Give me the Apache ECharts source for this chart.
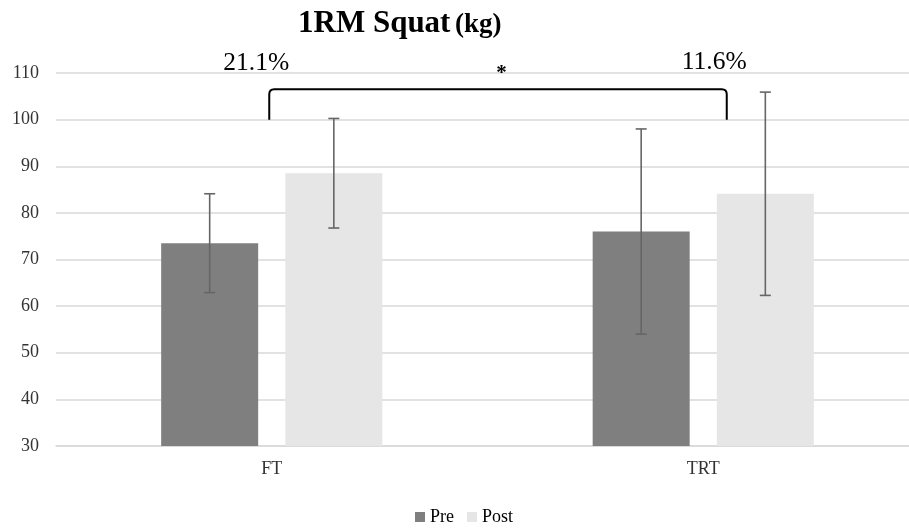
<!DOCTYPE html>
<html>
<head>
<meta charset="utf-8">
<script src="https://cdn.jsdelivr.net/npm/echarts@6/dist/echarts.min.js"></script>
<style>html,body{margin:0;padding:0;background:#fff}#c{width:909px;height:528px}</style>
</head>
<body>
<div id="c"></div>
<script>
const categories = ['FT', 'TRT'];
const seriesNames = ['Pre', 'Post'];
const preMean = [73.5, 76.0];
const preSD = [10.6, 22.0];
const postMean = [88.5, 84.1];
const postSD = [11.75, 21.8];
const changeLabels = ['21.1%', '11.6%'];
const bracketValues = [100, 106.5]; // bottom and top of significance bracket
const titleParts = ['1RM Squat', '(kg)'];
const yTicks = [30, 40, 50, 60, 70, 80, 90, 100, 110];

const FONT = '"Liberation Serif", "Times New Roman", serif';
const BAR_W = 97, GAP = 0.28;
const OFF = (BAR_W + BAR_W * GAP) / 2;

function errData(mean, sd) {
  return mean.map((m, i) => [i, m - sd[i], m + sd[i]]);
}
function errRender(offset) {
  return function (params, api) {
    const lo = api.coord([api.value(0), api.value(1)]);
    const hi = api.coord([api.value(0), api.value(2)]);
    const x = lo[0] + offset;
    const st = { stroke: '#666666', lineWidth: 1.6 };
    return {
      type: 'group',
      children: [
        { type: 'line', shape: { x1: x, y1: lo[1], x2: x, y2: hi[1] }, style: st },
        { type: 'line', shape: { x1: x - 5.5, y1: lo[1], x2: x + 5.5, y2: lo[1] }, style: st },
        { type: 'line', shape: { x1: x - 5.5, y1: hi[1], x2: x + 5.5, y2: hi[1] }, style: st }
      ]
    };
  };
}
function bracketRender(params, api) {
  const a = api.coord([0, api.value(0)]);
  const b = api.coord([1, api.value(1)]);
  const xl = a[0] - 2.5, xr = b[0] + 23.5, yBot = a[1], yTop = b[1], r = 5;
  const d = `M ${xl} ${yBot} L ${xl} ${yTop + r} Q ${xl} ${yTop} ${xl + r} ${yTop} L ${xr - r} ${yTop} Q ${xr} ${yTop} ${xr} ${yTop + r} L ${xr} ${yBot}`;
  const mid = (a[0] + b[0]) / 2;
  return {
    type: 'group',
    children: [
      { type: 'path', shape: { pathData: d }, style: { fill: null, stroke: '#000', lineWidth: 2 } },
      { type: 'text', x: a[0] - 15.5, y: yTop - 26, style: { text: changeLabels[0], font: '25.5px ' + FONT, fill: '#000', align: 'center', verticalAlign: 'middle' } },
      { type: 'text', x: b[0] + 11, y: yTop - 27, style: { text: changeLabels[1], font: '25.5px ' + FONT, fill: '#000', align: 'center', verticalAlign: 'middle' } },
      { type: 'text', x: mid + 14, y: yTop - 16, style: { text: '*', font: 'bold 21px ' + FONT, fill: '#000', align: 'center', verticalAlign: 'middle' } }
    ]
  };
}

const chart = echarts.init(document.getElementById('c'), null, { renderer: 'canvas' });
const option = {
  animation: false,
  backgroundColor: '#ffffff',
  graphic: [
    { type: 'text', x: 298, y: 23.6, style: { text: titleParts[0], font: 'bold 31px ' + FONT, fill: '#000', align: 'left', verticalAlign: 'middle' } },
    { type: 'text', x: 455, y: 24.9, style: { text: titleParts[1], font: 'bold 27px ' + FONT, fill: '#000', align: 'left', verticalAlign: 'middle' } }
  ],
  grid: { left: 56, width: 863, top: 73, bottom: 82, outerBoundsMode: 'none', containLabel: false },
  legend: {
    data: seriesNames,
    left: 415, top: 508,
    icon: 'rect', itemWidth: 10, itemHeight: 10, itemGap: 13, padding: 0,
    textStyle: { fontFamily: FONT, fontSize: 18, color: '#000' }
  },
  xAxis: {
    type: 'category', data: categories,
    axisLine: { lineStyle: { color: '#d9d9d9', width: 1.5 } },
    axisTick: { show: false },
    axisLabel: { fontFamily: FONT, fontSize: 18, color: '#333', margin: 14 }
  },
  yAxis: {
    type: 'value', min: 30, max: 110, interval: 10,
    axisLine: { show: false }, axisTick: { show: false },
    splitLine: { lineStyle: { color: '#d9d9d9', width: 1.5 } },
    axisLabel: { fontFamily: FONT, fontSize: 18, color: '#333', margin: 17 }
  },
  series: [
    { name: 'Pre', type: 'bar', data: preMean, barWidth: BAR_W, barGap: (GAP * 100) + '%', itemStyle: { color: '#7f7f7f' } },
    { name: 'Post', type: 'bar', data: postMean, barWidth: BAR_W, barGap: (GAP * 100) + '%', itemStyle: { color: '#e6e6e6' } },
    { type: 'custom', data: errData(preMean, preSD), renderItem: errRender(-OFF), z: 5, silent: true },
    { type: 'custom', data: errData(postMean, postSD), renderItem: errRender(OFF), z: 5, silent: true },
    { type: 'custom', data: [bracketValues], renderItem: bracketRender, z: 6, silent: true, clip: false }
  ]
};
chart.setOption(option);
</script>
</body>
</html>
